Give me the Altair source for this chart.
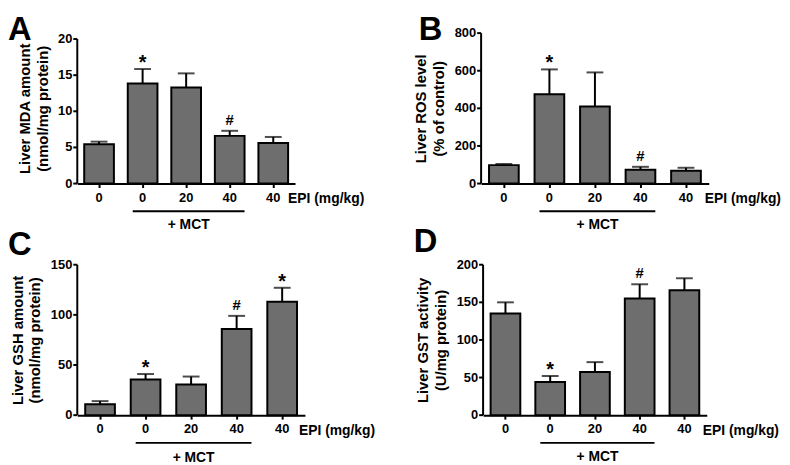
import altair as alt
import pandas as pd

groups = ["0_a", "0_b", "20_c", "40_d", "40_e"]

mda_mean = [5.45, 13.85, 13.3, 6.6, 5.6]
mda_err = [5.8, 15.85, 15.25, 7.3, 6.45]
mda_mark = ["", "*", "", "#", ""]
mda_ticks = [0, 5, 10, 15, 20]

ros_mean = [98, 475, 410, 73, 68]
ros_err = [104, 607, 591, 89, 84]
ros_mark = ["", "*", "", "#", ""]
ros_ticks = [0, 200, 400, 600, 800]

gsh_mean = [10.9, 35.5, 30.5, 86, 113]
gsh_err = [14, 41, 38.5, 99, 127]
gsh_mark = ["", "*", "", "#", "*"]
gsh_ticks = [0, 50, 100, 150]

gst_mean = [135, 44, 57.5, 155, 166]
gst_err = [150, 52, 70.5, 174, 182]
gst_mark = ["", "*", "", "#", ""]
gst_ticks = [0, 50, 100, 150, 200]

FONT = "Liberation Sans"
BAR_W = 30
H = 152


def panel(letter, mean, err, marks, ticks, ytitle, W, axis_h, epi_dx, letter_xy, mct_dy):
    df = pd.DataFrame({"g": groups, "m": mean, "e": err, "s": marks})
    ymax = ticks[-1]
    step = W / 5.0
    pi = 1 - BAR_W / step
    dom_top = ymax * H / axis_h
    ys = alt.Scale(domain=[0, dom_top], nice=False)
    xs = alt.Scale(paddingInner=pi, paddingOuter=pi / 2)
    lw = 0.556 * 13 * len(str(ymax))
    xaxis = alt.Axis(title=None, labelAngle=0, labelPadding=4,
                     labelExpr="split(datum.value,'_')[0]",
                     labelFont=FONT, labelFontWeight="bold", labelFontSize=13,
                     labelColor="black")
    yaxis = alt.Axis(title=ytitle, domain=False, labels=False, ticks=False,
                     titlePadding=13 + lw, titleFont=FONT, titleFontWeight="bold",
                     titleFontSize=15, titleLineHeight=18, titleColor="black")

    def X():
        return alt.X("g:N", sort=groups, scale=xs, axis=xaxis)

    def Y(f):
        return alt.Y(f, scale=ys, axis=yaxis, title=ytitle)

    base = alt.Chart(df)
    bars = base.mark_bar(fill="#6e6e6e", stroke="black", strokeWidth=2, size=BAR_W).encode(
        x=X(), y=Y("m:Q"))
    rule = base.mark_rule(color="black", strokeWidth=2).encode(
        x=X(), y=Y("m:Q"), y2="e:Q")
    cap = base.mark_tick(color="black", thickness=2, size=17, orient="horizontal").encode(
        x=X(), y=Y("e:Q"))
    stars = base.transform_filter("datum.s == '*'").mark_text(
        font=FONT, fontWeight="bold", fontSize=20, dy=0, baseline="alphabetic", color="black"
    ).encode(x=X(), y=Y("e:Q"), text="s:N")
    hashes = base.transform_filter("datum.s == '#'").mark_text(
        font=FONT, fontWeight="bold", fontSize=15, dy=-6, baseline="alphabetic", color="black"
    ).encode(x=X(), y=Y("e:Q"), text="s:N")

    tk = alt.Chart(pd.DataFrame({"v": ticks, "lab": [str(t) for t in ticks]}))
    tick_marks = tk.mark_rule(color="black", strokeWidth=2).encode(
        x=alt.value(-4), x2=alt.value(0), y=Y("v:Q"))
    tick_labels = tk.mark_text(font=FONT, fontWeight="bold", fontSize=13, align="right",
                               baseline="middle", color="black").encode(
        x=alt.value(-5), y=Y("v:Q"), text="lab:N")

    one = alt.Chart(pd.DataFrame({"t": [letter], "epi": ["EPI (mg/kg)"], "mct": ["+ MCT"],
                                  "z": [0], "top": [ymax]}))
    yline = one.mark_rule(color="black", strokeWidth=2).encode(
        x=alt.value(0), y=Y("z:Q"), y2="top:Q")
    spacer = one.mark_rule(opacity=0).encode(
        x=alt.value(0), y=alt.value(-23), y2=alt.value(-22))
    let = one.mark_text(font=FONT, fontWeight="bold", fontSize=33, align="left",
                        baseline="alphabetic", color="black").encode(
        x=alt.value(letter_xy[0]), y=alt.value(letter_xy[1]), text="t:N")
    epi = one.mark_text(font=FONT, fontWeight="bold", fontSize=14, align="left",
                        baseline="alphabetic", color="black").encode(
        x=alt.value(W + epi_dx), y=alt.value(H + 20), text="epi:N")
    x1 = 1.5 * step - BAR_W / 2 + 5
    x2 = 3.5 * step + BAR_W / 2
    line = one.mark_rule(color="black", strokeWidth=2).encode(
        x=alt.value(x1), x2=alt.value(x2), y=alt.value(H + 28))
    mct = one.mark_text(font=FONT, fontWeight="bold", fontSize=14, align="center",
                        baseline="alphabetic", color="black").encode(
        x=alt.value((x1 + x2) / 2), y=alt.value(H + mct_dy), text="mct:N")
    return alt.layer(bars, rule, cap, stars, hashes, tick_marks, tick_labels, yline, spacer,
                     let, epi, line, mct).properties(width=W, height=H)


A = panel("A", mda_mean, mda_err, mda_mark, mda_ticks,
          ["Liver MDA amount", "(nmol/mg protein)"], 220, 146, -7, (-70, 7), 46)
B = panel("B", ros_mean, ros_err, ros_mark, ros_ticks,
          ["Liver ROS level", "(% of control)"], 230, 152, -4, (-63, 7), 46)
C = panel("C", gsh_mean, gsh_err, gsh_mark, gsh_ticks,
          ["Liver GSH amount", "(nmol/mg protein)"], 230, 152, -6, (-70, -10), 47)
D = panel("D", gst_mean, gst_err, gst_mark, gst_ticks,
          ["Liver GST activity", "(U/mg protein)"], 226, 152, -4, (-70, -13), 46)

row1 = alt.hconcat(A, B, spacing=49)
row2 = alt.hconcat(C, D, spacing=38)
chart = alt.vconcat(row1, row2, spacing=-6).properties(
    padding={"left": 0, "top": 0, "right": 0, "bottom": 0}, background="white"
).configure_view(stroke=None).configure_axis(
    grid=False, domainColor="black", domainWidth=2, tickColor="black", tickWidth=2,
    tickSize=4, labelFont=FONT, labelFontWeight="bold", labelFontSize=13, labelColor="black",
    titleFont=FONT, titleFontWeight="bold", titleFontSize=15, titleColor="black",
    titleLineHeight=18
)

chart.save("out.html", embed_options={"renderer": "svg", "actions": False})
